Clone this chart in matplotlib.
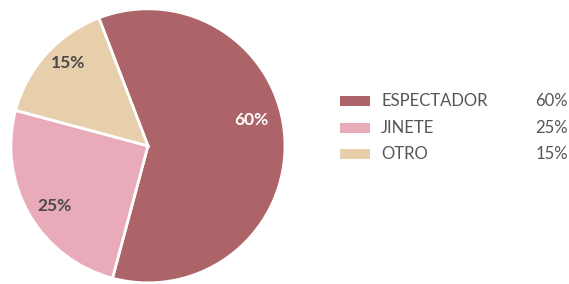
import numpy as np
import matplotlib.pyplot as plt
from matplotlib.patches import Rectangle

categories = ['ESPECTADOR', 'JINETE', 'OTRO']
values = [60, 25, 15]
pct_labels = ['60%', '25%', '15%']
colors = ['#AC6469', '#E9AAB9', '#E8CFAB']
label_colors = ['white', '#4A4A4A', '#4A4A4A']

plt.rcParams['font.family'] = ['Lato', 'DejaVu Sans']

fig = plt.figure(figsize=(5.69, 2.84), dpi=100)
ax = fig.add_axes([0.019, 0.004, 0.482, 0.965])
wedges, texts = ax.pie(values, colors=colors, startangle=111, counterclock=False,
                       wedgeprops=dict(edgecolor='white', linewidth=2))
ax.set_xlim(-1, 1)
ax.set_ylim(-1, 1)
ax.set_aspect('equal')

# label placement (angle shift from wedge middle, radius)
shifts = [11, 3, -4]
radii = [0.78, 0.81, 0.84]
for w, lab, c, s, r in zip(wedges, pct_labels, label_colors, shifts, radii):
    ang = np.deg2rad((w.theta1 + w.theta2) / 2 + s)
    ax.text(r * np.cos(ang), r * np.sin(ang), lab, ha='center', va='center',
            fontsize=12.5, fontweight='bold', color=c)

# legend drawn by hand (percent column right-aligned)
ys = [101, 128, 154]
for cat, v, col, y in zip(categories, pct_labels, colors, ys):
    yf = 1 - y / 284
    fig.patches.append(Rectangle((340 / 569, yf - 5 / 284), 30 / 569, 10 / 284,
                                 transform=fig.transFigure, facecolor=col,
                                 edgecolor='none'))
    fig.text(381 / 569, yf, cat, ha='left', va='center', fontsize=12, color='#555555')
    fig.text(568 / 569, yf, v, ha='right', va='center', fontsize=12, color='#555555')

fig.savefig('out.png', dpi=100)
